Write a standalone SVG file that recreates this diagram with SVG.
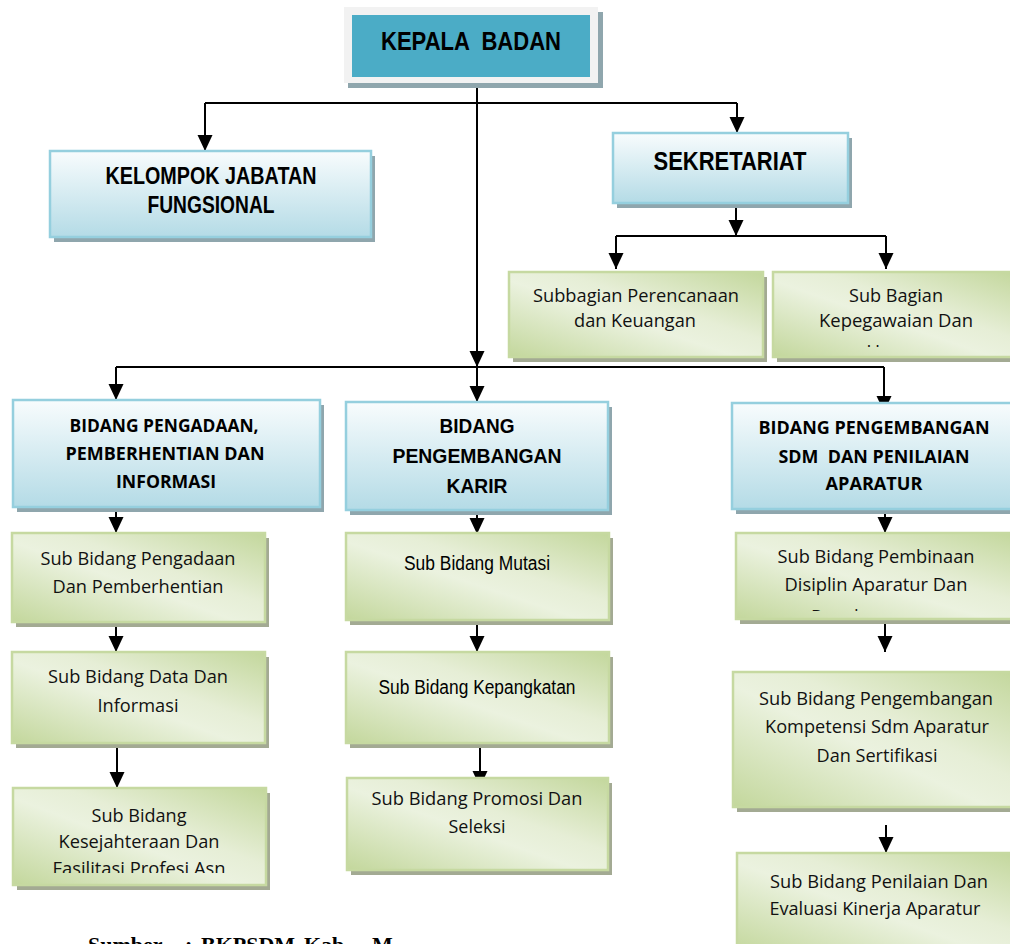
<svg xmlns="http://www.w3.org/2000/svg" width="1010" height="944" viewBox="0 0 1010 944">
<style>
.bg{fill:#ffffff}
.bshadow{fill:#8fa6ad}
.gshadow{fill:#a3aa93}
.bbox{fill:url(#blueGrad);stroke:#95cfde;stroke-width:2.5}
.gbox{fill:url(#greenGrad);stroke:#c6d9a1;stroke-width:2.5}
.ar{font-family:"Liberation Sans",Arial,sans-serif;fill:#000;text-anchor:middle}
.arb{font-family:"Liberation Sans",Arial,sans-serif;font-weight:bold;fill:#000;text-anchor:middle}
.cb{font-family:"Open Sans","Noto Sans",sans-serif;font-size:18.5px;fill:#111;text-anchor:middle}
.cbb{font-family:"Open Sans","Noto Sans",sans-serif;font-weight:bold;font-size:17.5px;fill:#000;text-anchor:middle}
.conn{fill:none;stroke:#000;stroke-width:2}
.arrow{fill:none;stroke:#000;stroke-width:2;marker-end:url(#ah)}
.src{font-family:"Liberation Serif","Times New Roman",serif;font-weight:bold;font-size:22px;fill:#000}
</style>
<defs>
<linearGradient id="blueGrad" x1="0" y1="0" x2="0" y2="1">
<stop offset="0" stop-color="#f8fcfd"/>
<stop offset="1" stop-color="#b4dbe6"/>
</linearGradient>
<linearGradient id="greenGrad" x1="0" y1="1" x2="1" y2="0">
<stop offset="0" stop-color="#c3d79c"/>
<stop offset="0.45" stop-color="#ebf2df"/>
<stop offset="0.6" stop-color="#e6eed6"/>
<stop offset="1" stop-color="#c3d79c"/>
</linearGradient>
<marker id="ah" viewBox="0 0 16 16" refX="16" refY="8" markerWidth="16" markerHeight="16" markerUnits="userSpaceOnUse" orient="auto">
<path d="M0,0.5 L16,8 L0,15.5 z" fill="#000"/>
</marker>
<clipPath id="clipUmum"><rect x="773" y="272" width="245" height="75"/></clipPath>
<clipPath id="clipPeng"><rect x="736" y="533" width="280" height="78"/></clipPath>
<clipPath id="clipFas"><rect x="13" y="788" width="253" height="85"/></clipPath>
</defs>
<rect class="bg" x="0" y="0" width="1010" height="944"/>

<g id="connectors">
<path class="arrow" d="M477,83 L477,367"/>
<path class="conn" d="M205,103 L737,103"/>
<path class="arrow" d="M205,103 L205,151"/>
<path class="arrow" d="M737,103 L737,133"/>
<path class="arrow" d="M736,206 L736,236"/>
<path class="conn" d="M616,236 L886,236"/>
<path class="arrow" d="M616,236 L616,269"/>
<path class="arrow" d="M886,236 L886,269"/>
<path class="conn" d="M116,367 L884,367"/>
<path class="arrow" d="M116,367 L116,400"/>
<path class="arrow" d="M477,367 L477,402"/>
<path class="arrow" d="M884,367 L884,412"/>
<path class="arrow" d="M116,502 L116,533"/>
<path class="arrow" d="M116,620 L116,652"/>
<path class="arrow" d="M117,742 L117,788"/>
<path class="arrow" d="M477,506 L477,534"/>
<path class="arrow" d="M477,622 L477,652"/>
<path class="arrow" d="M480,742 L480,787"/>
<path class="arrow" d="M885,508 L885,533"/>
<path class="arrow" d="M885,617 L885,652"/>
<path class="arrow" d="M886,825 L886,853"/>
</g>

<g id="kepala-badan">
<rect class="bshadow" x="348" y="12" width="255" height="76"/>
<rect x="344" y="7" width="254" height="76" fill="#f2f2f2"/>
<rect x="352" y="15" width="238" height="62" fill="#4bacc6"/>
<text class="arb" x="471" y="50" font-size="25" textLength="180" lengthAdjust="spacingAndGlyphs" xml:space="preserve">KEPALA  BADAN</text>
</g>

<g id="kelompok-jabatan-fungsional">
<rect class="bshadow" x="54" y="156" width="321" height="86"/>
<rect class="bbox" x="50" y="151" width="321" height="86"/>
<text class="arb" x="211" y="184" font-size="23" textLength="211" lengthAdjust="spacingAndGlyphs">KELOMPOK JABATAN</text>
<text class="arb" x="211" y="213" font-size="23" textLength="127" lengthAdjust="spacingAndGlyphs">FUNGSIONAL</text>
</g>

<g id="sekretariat">
<rect class="bshadow" x="617" y="138" width="235" height="70"/>
<rect class="bbox" x="613" y="133" width="235" height="70"/>
<text class="arb" x="730" y="170" font-size="25" textLength="153" lengthAdjust="spacingAndGlyphs">SEKRETARIAT</text>
</g>

<g id="subbagian-perencanaan">
<rect class="gshadow" x="513" y="277" width="254" height="85"/>
<rect class="gbox" x="509" y="272" width="254" height="85"/>
<text class="cb" x="636" y="302" textLength="206" lengthAdjust="spacingAndGlyphs">Subbagian Perencanaan</text>
<text class="cb" x="635" y="327" textLength="122" lengthAdjust="spacingAndGlyphs">dan Keuangan</text>
</g>

<g id="subbagian-kepegawaian">
<rect class="gshadow" x="777" y="277" width="245" height="85"/>
<rect class="gbox" x="773" y="272" width="245" height="85"/>
<text class="cb" x="896" y="302" textLength="94" lengthAdjust="spacingAndGlyphs">Sub Bagian</text>
<text class="cb" x="896" y="327" textLength="154" lengthAdjust="spacingAndGlyphs">Kepegawaian Dan</text>
<text class="cb" x="896" y="358" clip-path="url(#clipUmum)">Umum</text>
</g>

<g id="bidang-pengadaan">
<rect class="bshadow" x="17" y="405" width="307" height="107"/>
<rect class="bbox" x="13" y="400" width="307" height="107"/>
<text class="cbb" x="164" y="432" textLength="189" lengthAdjust="spacingAndGlyphs">BIDANG PENGADAAN,</text>
<text class="cbb" x="165" y="460" textLength="199" lengthAdjust="spacingAndGlyphs">PEMBERHENTIAN DAN</text>
<text class="cbb" x="166" y="488" textLength="100" lengthAdjust="spacingAndGlyphs">INFORMASI</text>
</g>

<g id="bidang-karir">
<rect class="bshadow" x="350" y="407" width="262" height="108"/>
<rect class="bbox" x="346" y="402" width="262" height="108"/>
<text class="arb" x="477" y="433" font-size="21" textLength="75" lengthAdjust="spacingAndGlyphs">BIDANG</text>
<text class="arb" x="477" y="463" font-size="21" textLength="169" lengthAdjust="spacingAndGlyphs">PENGEMBANGAN</text>
<text class="arb" x="477" y="493" font-size="21" textLength="61" lengthAdjust="spacingAndGlyphs">KARIR</text>
</g>

<g id="bidang-sdm">
<rect class="bshadow" x="736" y="408" width="285" height="106"/>
<rect class="bbox" x="732" y="403" width="285" height="106"/>
<text class="cbb" x="874" y="434" textLength="231" lengthAdjust="spacingAndGlyphs">BIDANG PENGEMBANGAN</text>
<text class="cbb" x="874" y="463" textLength="191" lengthAdjust="spacingAndGlyphs" xml:space="preserve">SDM  DAN PENILAIAN</text>
<text class="cbb" x="874" y="490" textLength="97" lengthAdjust="spacingAndGlyphs">APARATUR</text>
</g>

<g id="sub-pengadaan">
<rect class="gshadow" x="16" y="538" width="253" height="89"/>
<rect class="gbox" x="12" y="533" width="253" height="89"/>
<text class="cb" x="138" y="565" textLength="195" lengthAdjust="spacingAndGlyphs">Sub Bidang Pengadaan</text>
<text class="cb" x="138" y="593" textLength="171" lengthAdjust="spacingAndGlyphs">Dan Pemberhentian</text>
</g>

<g id="sub-data">
<rect class="gshadow" x="16" y="657" width="253" height="91"/>
<rect class="gbox" x="12" y="652" width="253" height="91"/>
<text class="cb" x="138" y="683" textLength="180" lengthAdjust="spacingAndGlyphs">Sub Bidang Data Dan</text>
<text class="cb" x="138" y="712" textLength="81" lengthAdjust="spacingAndGlyphs">Informasi</text>
</g>

<g id="sub-kesejahteraan">
<rect class="gshadow" x="17" y="793" width="253" height="97"/>
<rect class="gbox" x="13" y="788" width="253" height="97"/>
<text class="cb" x="139" y="822" textLength="95" lengthAdjust="spacingAndGlyphs">Sub Bidang</text>
<text class="cb" x="139" y="848" textLength="161" lengthAdjust="spacingAndGlyphs">Kesejahteraan Dan</text>
<text class="cb" x="139" y="875" textLength="173" lengthAdjust="spacingAndGlyphs" clip-path="url(#clipFas)">Fasilitasi Profesi Asn</text>
</g>

<g id="sub-mutasi">
<rect class="gshadow" x="350" y="538" width="263" height="87"/>
<rect class="gbox" x="346" y="533" width="263" height="87"/>
<text class="ar" x="477" y="570" font-size="19.5" textLength="146" lengthAdjust="spacingAndGlyphs">Sub Bidang Mutasi</text>
</g>

<g id="sub-kepangkatan">
<rect class="gshadow" x="350" y="657" width="263" height="91"/>
<rect class="gbox" x="346" y="652" width="263" height="91"/>
<text class="ar" x="477" y="694" font-size="19.5" textLength="197" lengthAdjust="spacingAndGlyphs">Sub Bidang Kepangkatan</text>
</g>

<g id="sub-promosi">
<rect class="gshadow" x="351" y="783" width="261" height="92"/>
<rect class="gbox" x="347" y="778" width="261" height="92"/>
<text class="cb" x="477" y="805" textLength="211" lengthAdjust="spacingAndGlyphs">Sub Bidang Promosi Dan</text>
<text class="cb" x="477" y="833" textLength="57" lengthAdjust="spacingAndGlyphs">Seleksi</text>
</g>

<g id="sub-pembinaan">
<rect class="gshadow" x="740" y="538" width="280" height="86"/>
<rect class="gbox" x="736" y="533" width="280" height="86"/>
<text class="cb" x="876" y="563" textLength="197" lengthAdjust="spacingAndGlyphs">Sub Bidang Pembinaan</text>
<text class="cb" x="876" y="591" textLength="183" lengthAdjust="spacingAndGlyphs">Disiplin Aparatur Dan</text>
<text class="cb" x="868" y="623" clip-path="url(#clipPeng)">Penghargaan</text>
</g>

<g id="sub-kompetensi">
<rect class="gshadow" x="737" y="677" width="285" height="135"/>
<rect class="gbox" x="733" y="672" width="285" height="135"/>
<text class="cb" x="876" y="705" textLength="234" lengthAdjust="spacingAndGlyphs">Sub Bidang Pengembangan</text>
<text class="cb" x="877" y="733" textLength="224" lengthAdjust="spacingAndGlyphs">Kompetensi Sdm Aparatur</text>
<text class="cb" x="877" y="762" textLength="121" lengthAdjust="spacingAndGlyphs">Dan Sertifikasi</text>
</g>

<g id="sub-penilaian">
<rect class="gshadow" x="741" y="858" width="280" height="100"/>
<rect class="gbox" x="737" y="853" width="280" height="100"/>
<text class="cb" x="879" y="888" textLength="218" lengthAdjust="spacingAndGlyphs">Sub Bidang Penilaian Dan</text>
<text class="cb" x="875" y="915" textLength="211" lengthAdjust="spacingAndGlyphs">Evaluasi Kinerja Aparatur</text>
</g>

<text class="src" y="952"><tspan x="88">Sumber</tspan><tspan x="185">:</tspan><tspan x="201">BKPSDM</tspan><tspan x="304">Kab.</tspan><tspan x="372">M</tspan></text>
</svg>
